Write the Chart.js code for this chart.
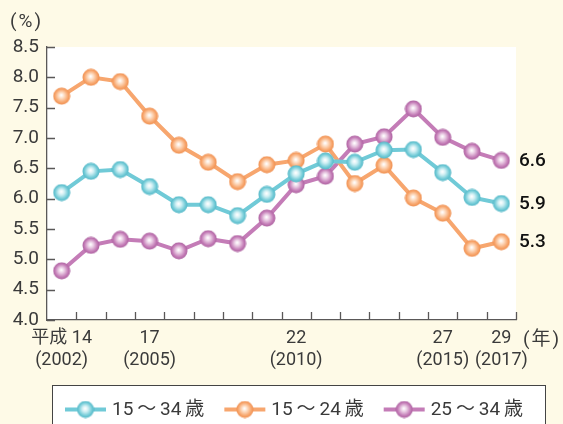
<!DOCTYPE html>
<html><head><meta charset="utf-8">
<script src="https://cdn.jsdelivr.net/npm/chart.js@4/dist/chart.umd.min.js"></script>
<style>html,body{margin:0;padding:0;background:#FEFAE7;}#wrap{width:563px;height:424px;position:relative;}</style>
</head><body><div id="wrap"><canvas id="c" width="563" height="424"></canvas></div>
<script>
const years = [2002,2003,2004,2005,2006,2007,2008,2009,2010,2011,2012,2013,2014,2015,2016,2017];
const tickTop = ['平成 14','','','17','','','','','22','','','','','27','','29'];
const tickBottom = ['(2002)','','','(2005)','','','','','(2010)','','','','','(2015)','','(2017)'];
const seriesNames = ['15～34歳','15～24歳','25～34歳'];
const age15to34 = [6.10,6.45,6.48,6.20,5.90,5.90,5.72,6.07,6.41,6.62,6.60,6.80,6.81,6.43,6.02,5.92];
const age15to24 = [7.69,8.00,7.93,7.36,6.88,6.60,6.28,6.56,6.63,6.90,6.25,6.55,6.01,5.76,5.18,5.29];
const age25to34 = [4.81,5.23,5.33,5.30,5.14,5.34,5.26,5.68,6.23,6.37,6.90,7.02,7.48,7.01,6.78,6.63];
const endLabels = ['5.9','5.3','6.6'];
const yTicks = [4.0,4.5,5.0,5.5,6.0,6.5,7.0,7.5,8.0,8.5];

const FONT = "Roboto, 'Noto Sans CJK JP', sans-serif";
const TXT = '#3a3a3a';
const AXIS = '#5a5858';

function sphere(color, light, dark){
  const c = document.createElement('canvas');
  c.width = 18; c.height = 18;
  const g = c.getContext('2d');
  const gr = g.createRadialGradient(8.6, 8, 0.3, 9, 9, 8.8);
  gr.addColorStop(0, '#ffffff');
  gr.addColorStop(0.3, light);
  gr.addColorStop(0.72, color);
  gr.addColorStop(1, dark);
  g.fillStyle = gr;
  g.beginPath(); g.arc(9, 9, 8.5, 0, Math.PI*2); g.fill();
  return c;
}
const colors = [
  {line:'#70CAD7', c:'#74CCD8', l:'#D2F0F4', d:'#4FB4C4'},
  {line:'#F7A66E', c:'#F8A76E', l:'#FDDCC2', d:'#EE8C4C'},
  {line:'#C47CB7', c:'#C47CB7', l:'#EACDE4', d:'#A95E9C'}
];
const spheres = colors.map(o => sphere(o.c, o.l, o.d));

const bgPlugin = {
  id:'bg',
  beforeDraw(chart){
    const ctx = chart.ctx, a = chart.chartArea;
    ctx.save();
    ctx.fillStyle = '#FEFAE7';
    ctx.fillRect(0,0,chart.width,chart.height);
    ctx.fillStyle = '#ffffff';
    ctx.fillRect(a.left, a.top, a.right-a.left, a.bottom-a.top);
    ctx.restore();
  },
  beforeDatasetsDraw(chart){
    const ctx = chart.ctx, a = chart.chartArea;
    const xs = chart.scales.x, ys = chart.scales.y;
    ctx.save();
    ctx.strokeStyle = AXIS; ctx.lineWidth = 1.3;
    const n = xs.ticks.length, w = (xs.right - xs.left)/n;
    ctx.beginPath();
    for(let i=1;i<=n;i++){
      const x = Math.round(xs.left + i*w)+0.5;
      ctx.moveTo(x, a.bottom); ctx.lineTo(x, a.bottom-8);
    }
    yTicks.forEach(v=>{
      const y = Math.round(ys.getPixelForValue(v))+0.5;
      ctx.moveTo(a.left, y); ctx.lineTo(a.left+8, y);
    });
    ctx.stroke();
    ctx.restore();
  },
  afterDraw(chart){
    const ctx = chart.ctx, a = chart.chartArea;
    const ys = chart.scales.y;
    ctx.save();
    ctx.fillStyle = TXT;
    ctx.font = "19px " + FONT;
    ctx.textBaseline = 'middle';
    ctx.textAlign = 'left';
    ctx.letterSpacing = '2px';
    ctx.fillText('(%)', 10, 22);
    ctx.fillText('(年)', 523, 340);
    ctx.letterSpacing = '0px';
    ctx.fillStyle = '#111';
    ctx.font = "500 19px " + FONT;
    chart.data.datasets.forEach((ds,i)=>{
      const v = ds.data[ds.data.length-1];
      ctx.fillText(endLabels[i], a.right+3, ys.getPixelForValue(v)+1);
    });
    ctx.fillStyle = '#ffffff';
    ctx.fillRect(52, 385, 493, 45);
    ctx.strokeStyle = '#444'; ctx.lineWidth = 1;
    ctx.strokeRect(52.5, 385.5, 493, 45);
    ctx.font = "19px " + FONT;
    let x = 65; const yc = 409.5;
    chart.data.datasets.forEach((ds,i)=>{
      ctx.strokeStyle = colors[i].line; ctx.lineWidth = 4;
      ctx.beginPath(); ctx.moveTo(x, yc); ctx.lineTo(x+41, yc); ctx.stroke();
      ctx.drawImage(spheres[i], x+20.5-9, yc-9);
      ctx.fillStyle = TXT;
      const shown = ds.label.replace('～', '\u2009～\u2009').replace('歳', '\u2009歳');
      ctx.fillText(shown, x+47, yc+1);
      const tw = ctx.measureText(shown).width;
      x = x + 47 + tw + 20;
    });
    ctx.restore();
  }
};

const datasets = [age15to34, age15to24, age25to34].map((d,i)=>({
  label: seriesNames[i],
  data: d,
  borderColor: colors[i].line,
  backgroundColor: colors[i].c,
  borderWidth: 4,
  pointStyle: spheres[i],
  pointRadius: 8,
  tension: 0,
  clip: false
}));

new Chart(document.getElementById('c'), {
  type:'line',
  data:{ labels: years.map(String), datasets },
  plugins:[bgPlugin],
  options:{
    responsive:false,
    animation:false,
    devicePixelRatio:1,
    layout:{padding:{top:47,right:47,bottom:44,left:0}},
    plugins:{legend:{display:false}, tooltip:{enabled:false}},
    scales:{
      x:{
        type:'category',
        offset:true,
        grid:{display:false, drawTicks:false},
        border:{display:true, color:AXIS, width:1.3},
        ticks:{
          autoSkip:false, maxRotation:0, minRotation:0, padding:8,
          color:TXT, font:{family:FONT, size:18, lineHeight:1.2},
          callback:(v,i)=> tickTop[i] ? [tickTop[i], tickBottom[i]] : ''
        },
        afterFit:s=>{ s.height = 60; }
      },
      y:{
        min:4, max:8.5,
        grid:{display:false, drawTicks:false},
        border:{display:true, color:AXIS, width:1.3},
        ticks:{stepSize:0.5, padding:8, color:TXT, font:{family:FONT, size:19},
          callback:v=>Number(v).toFixed(1)},
        afterFit:s=>{ s.width = 47; }
      }
    }
  }
});
</script></body></html>
